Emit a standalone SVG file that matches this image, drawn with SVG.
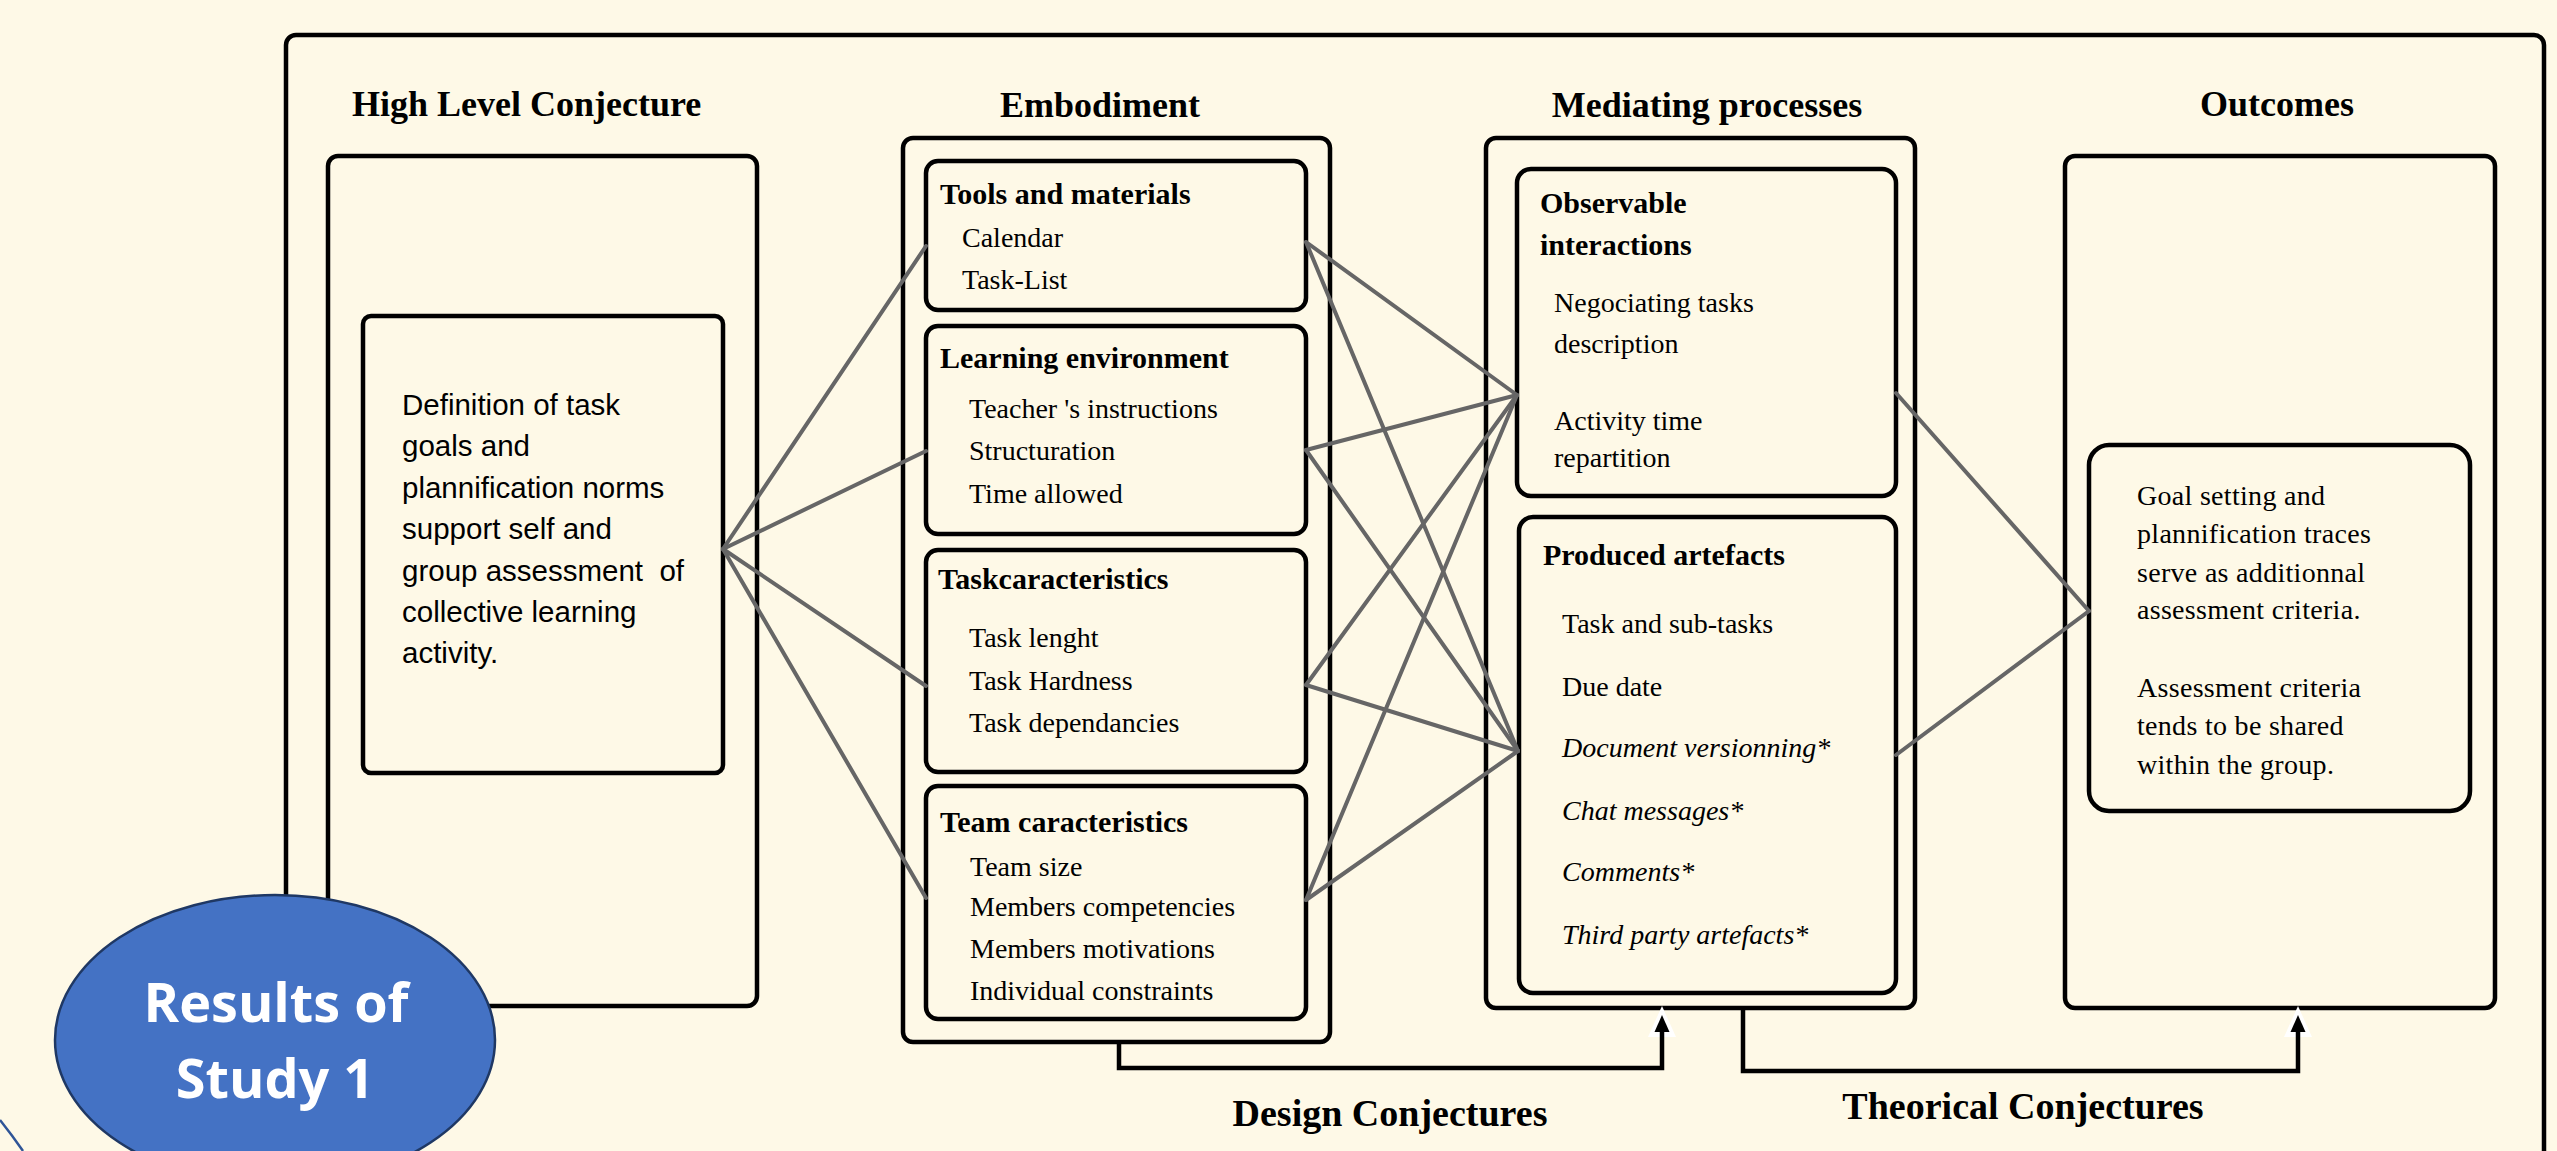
<svg xmlns="http://www.w3.org/2000/svg" width="2557" height="1151" viewBox="0 0 2557 1151">
<style>
.box{fill:none;stroke:#000;stroke-width:4.5}
.conn{fill:none;stroke:#666;stroke-width:4;stroke-linecap:round}
.bracket{fill:none;stroke:#000;stroke-width:4.5}
.h{font-family:"Liberation Serif","Times New Roman",serif;font-weight:bold;font-size:36px;fill:#000}
.sh{font-family:"Liberation Serif","Times New Roman",serif;font-weight:bold;font-size:30px;fill:#000}
.t{font-family:"Liberation Serif","Times New Roman",serif;font-size:28px;fill:#000}
.it{font-style:italic}
.out{font-family:"Liberation Serif","Times New Roman",serif;font-size:28px;letter-spacing:0.3px;fill:#000}
.sans{font-family:"Liberation Sans",Arial,sans-serif;font-size:29.5px;fill:#000;white-space:pre}
.lab{font-family:"Liberation Serif","Times New Roman",serif;font-weight:bold;font-size:38px;fill:#000;text-anchor:middle}
.res{font-family:"Open Sans","Noto Sans",sans-serif;font-weight:bold;font-size:54px;fill:#fff;text-anchor:middle}
.mid{text-anchor:middle}
</style>
<defs>
<polygon id="halo" points="0,-9 14,22 -14,22" fill="#fff"/>
<polygon id="head" points="0,0 7.5,17 -7.5,17" fill="#000"/>
</defs>
<rect x="0" y="0" width="2557" height="1151" fill="#FEF9E7"/>
<g id="frame">
<rect class="box" x="286" y="35" width="2258" height="1150" rx="10"/>
</g>
<g id="high-level-conjecture">
<text class="h" x="352" y="116">High Level Conjecture</text>
<rect class="box" x="328" y="156" width="429" height="850" rx="10"/>
<rect class="box" x="363" y="316" width="360" height="457" rx="8"/>
<text class="sans" x="402" y="415">Definition of task</text>
<text class="sans" x="402" y="456.4">goals and</text>
<text class="sans" x="402" y="497.8">plannification norms</text>
<text class="sans" x="402" y="539.2">support self and</text>
<text class="sans" x="402" y="580.6">group assessment  of</text>
<text class="sans" x="402" y="622">collective learning</text>
<text class="sans" x="402" y="663.4">activity.</text>
</g>
<g id="embodiment">
<text class="h mid" x="1100" y="117">Embodiment</text>
<rect class="box" x="903" y="138" width="427" height="904" rx="10"/>
</g>
<g id="tools-and-materials">
<rect class="box" x="926" y="161" width="380" height="149" rx="12"/>
<text class="sh" x="940" y="204">Tools and materials</text>
<text class="t" x="962" y="247">Calendar</text>
<text class="t" x="962" y="289">Task-List</text>
</g>
<g id="learning-environment">
<rect class="box" x="926" y="326" width="380" height="208" rx="12"/>
<text class="sh" x="940" y="368">Learning environment</text>
<text class="t" x="969" y="418">Teacher 's instructions</text>
<text class="t" x="969" y="460">Structuration</text>
<text class="t" x="969" y="503">Time allowed</text>
</g>
<g id="task-caracteristics">
<rect class="box" x="926" y="550" width="380" height="222" rx="12"/>
<text class="sh" x="938" y="589">Taskcaracteristics</text>
<text class="t" x="969" y="647">Task lenght</text>
<text class="t" x="969" y="690">Task Hardness</text>
<text class="t" x="969" y="732">Task dependancies</text>
</g>
<g id="team-caracteristics">
<rect class="box" x="926" y="786" width="380" height="233" rx="12"/>
<text class="sh" x="940" y="832">Team caracteristics</text>
<text class="t" x="970" y="876">Team size</text>
<text class="t" x="970" y="916">Members competencies</text>
<text class="t" x="970" y="958">Members motivations</text>
<text class="t" x="970" y="1000">Individual constraints</text>
</g>
<g id="mediating-processes">
<text class="h mid" x="1707" y="117">Mediating processes</text>
<rect class="box" x="1486" y="138" width="429" height="870" rx="10"/>
</g>
<g id="observable-interactions">
<rect class="box" x="1517" y="169" width="379" height="327" rx="14"/>
<text class="sh" x="1540" y="213">Observable</text>
<text class="sh" x="1540" y="255">interactions</text>
<text class="t" x="1554" y="312">Negociating tasks</text>
<text class="t" x="1554" y="353">description</text>
<text class="t" x="1554" y="430">Activity time</text>
<text class="t" x="1554" y="467">repartition</text>
</g>
<g id="produced-artefacts">
<rect class="box" x="1519" y="517" width="377" height="476" rx="14"/>
<text class="sh" x="1543" y="565">Produced artefacts</text>
<text class="t" x="1562" y="633">Task and sub-tasks</text>
<text class="t" x="1562" y="696">Due date</text>
<text class="t it" x="1562" y="757">Document versionning*</text>
<text class="t it" x="1562" y="820">Chat messages*</text>
<text class="t it" x="1562" y="881">Comments*</text>
<text class="t it" x="1562" y="944">Third party artefacts*</text>
</g>
<g id="outcomes">
<text class="h mid" x="2277" y="116">Outcomes</text>
<rect class="box" x="2065" y="156" width="430" height="852" rx="10"/>
<rect class="box" x="2089" y="445" width="381" height="366" rx="20"/>
<text class="out" x="2137" y="505">Goal setting and</text>
<text class="out" x="2137" y="543">plannification traces</text>
<text class="out" x="2137" y="582">serve as additionnal</text>
<text class="out" x="2137" y="619">assessment criteria.</text>
<text class="out" x="2137" y="697">Assessment criteria</text>
<text class="out" x="2137" y="735">tends to be shared</text>
<text class="out" x="2137" y="774">within the group.</text>
</g>
<g id="connectors">
<line class="conn" x1="723" y1="549" x2="926" y2="246"/>
<line class="conn" x1="723" y1="549" x2="926" y2="451"/>
<line class="conn" x1="723" y1="549" x2="926" y2="686"/>
<line class="conn" x1="723" y1="549" x2="926" y2="898"/>
<line class="conn" x1="1306" y1="242" x2="1517" y2="395"/>
<line class="conn" x1="1306" y1="242" x2="1518" y2="751"/>
<line class="conn" x1="1306" y1="450" x2="1517" y2="395"/>
<line class="conn" x1="1306" y1="450" x2="1518" y2="751"/>
<line class="conn" x1="1306" y1="685" x2="1517" y2="395"/>
<line class="conn" x1="1306" y1="685" x2="1518" y2="751"/>
<line class="conn" x1="1306" y1="900" x2="1517" y2="395"/>
<line class="conn" x1="1306" y1="900" x2="1518" y2="751"/>
<line class="conn" x1="1896" y1="393" x2="2089" y2="611"/>
<line class="conn" x1="1896" y1="755" x2="2089" y2="611"/>
<use href="#halo" x="1662" y="1015"/>
<use href="#halo" x="2298" y="1015"/>
<path class="bracket" d="M1119,1042 V1068 H1662 V1030"/>
<path class="bracket" d="M1743,1008 V1071 H2298 V1031"/>
<use href="#head" x="1662" y="1015"/>
<use href="#head" x="2298" y="1015"/>
<text class="lab" x="1390" y="1126">Design Conjectures</text>
<text class="lab" x="2023" y="1119">Theorical Conjectures</text>
</g>
<g id="results-of-study-1">
<path d="M0,1120 Q12,1135 23,1151" fill="none" stroke="#2F5597" stroke-width="2.5"/>
<ellipse cx="275" cy="1040" rx="220" ry="145" fill="#4472C4" stroke="#1F3864" stroke-width="2.5"/>
<text class="res" x="276" y="1022">Results of</text>
<text class="res" x="275" y="1098">Study 1</text>
</g>
</svg>
